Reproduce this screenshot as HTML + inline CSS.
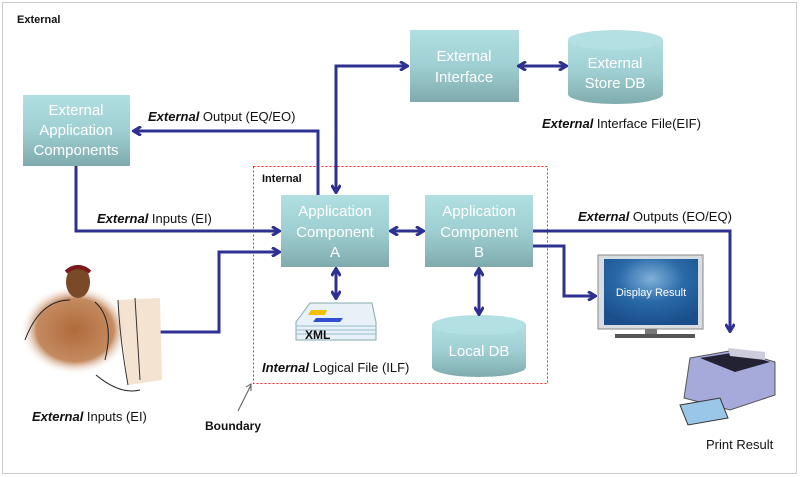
<!DOCTYPE html>
<html><head><meta charset="utf-8"><style>
html,body{margin:0;padding:0;background:#fff;}
svg{display:block;font-family:"Liberation Sans",sans-serif;}
.bt{fill:#fff;font-size:15px;text-anchor:middle;}
.lb{fill:#111;font-size:13px;}
</style></head><body>
<svg width="800" height="477" viewBox="0 0 800 477" xmlns="http://www.w3.org/2000/svg">
<defs>
<linearGradient id="g" x1="0" y1="0" x2="0" y2="1"><stop offset="0" stop-color="#b1dfe2"/><stop offset="0.5" stop-color="#9fcfd2"/><stop offset="1" stop-color="#7fabae"/></linearGradient>
<marker id="ah" markerWidth="10" markerHeight="10" refX="8" refY="5" orient="auto-start-reverse" markerUnits="userSpaceOnUse"><path d="M1,0.5 L8.5,5 L1,9.5" fill="none" stroke="#2e3192" stroke-width="3"/></marker>
<radialGradient id="scr" cx="0.5" cy="0.3" r="0.7"><stop offset="0" stop-color="#7fb0d8"/><stop offset="0.5" stop-color="#2a6aa8"/><stop offset="1" stop-color="#1a4f8c"/></radialGradient>
<radialGradient id="pb" cx="0.5" cy="0.5" r="0.5"><stop offset="0" stop-color="#b06a3a"/><stop offset="0.7" stop-color="#c48a60"/><stop offset="1" stop-color="#fff" stop-opacity="0"/></radialGradient>
</defs>
<rect x="2.5" y="2.5" width="794" height="471" fill="none" stroke="#999" stroke-dasharray="1,1"/>
<text x="17" y="23" font-size="11" font-weight="bold" fill="#111">External</text>
<rect x="253.5" y="166.5" width="294" height="217" fill="none" stroke="#ff2020" stroke-dasharray="2,2"/>
<text x="262" y="182" font-size="11" font-weight="bold" fill="#111">Internal</text>

<rect x="23" y="95" width="107" height="71" fill="url(#g)"/>
<text class="bt"><tspan x="76" y="115">External</tspan><tspan x="76" y="135">Application</tspan><tspan x="76" y="155">Components</tspan></text>
<rect x="410" y="30" width="109" height="72" fill="url(#g)"/>
<text class="bt"><tspan x="464" y="61">External</tspan><tspan x="464" y="82">Interface</tspan></text>
<rect x="281" y="195" width="108" height="72" fill="url(#g)"/>
<text class="bt"><tspan x="335" y="216">Application</tspan><tspan x="335" y="237">Component</tspan><tspan x="335" y="257">A</tspan></text>
<rect x="425" y="195" width="108" height="72" fill="url(#g)"/>
<text class="bt"><tspan x="479" y="216">Application</tspan><tspan x="479" y="237">Component</tspan><tspan x="479" y="257">B</tspan></text>

<path d="M568,40 v54 a47.5,10 0 0 0 95,0 v-54 z" fill="url(#g)"/>
<ellipse cx="615.5" cy="40" rx="47.5" ry="10" fill="#b3e0e3"/>
<text class="bt"><tspan x="615" y="68">External</tspan><tspan x="615" y="88">Store DB</tspan></text>
<path d="M432,325 v42 a47,10 0 0 0 94,0 v-42 z" fill="url(#g)"/>
<ellipse cx="479" cy="325" rx="47" ry="10" fill="#b3e0e3"/>
<text class="bt" x="479" y="356">Local DB</text>

<g fill="none" stroke="#2e3192" stroke-width="3">
<path d="M519,66 H566" marker-start="url(#ah)" marker-end="url(#ah)"/>
<path d="M407,66 H336 V192" marker-start="url(#ah)" marker-end="url(#ah)"/>
<path d="M318,195 V131 H134" marker-end="url(#ah)"/>
<path d="M76,166 V231 H279" marker-end="url(#ah)"/>
<path d="M160,332 H219 V252 H279" marker-end="url(#ah)"/>
<path d="M391,231 H423" marker-start="url(#ah)" marker-end="url(#ah)"/>
<path d="M336,269 V298" marker-start="url(#ah)" marker-end="url(#ah)"/>
<path d="M479,269 V314" marker-start="url(#ah)" marker-end="url(#ah)"/>
<path d="M533,231 H730 V331" marker-end="url(#ah)"/>
<path d="M533,246 H564 V296 H595" marker-end="url(#ah)"/>
</g>
<path d="M238,411 L251,385" stroke="#555" stroke-width="1" fill="none"/>
<path d="M246,387 L251,384 L251,391" stroke="#555" fill="none"/>

<text class="lb" x="148" y="121"><tspan font-weight="bold" font-style="italic">External</tspan> Output (EQ/EO)</text>
<text class="lb" x="97" y="223"><tspan font-weight="bold" font-style="italic">External</tspan> Inputs (EI)</text>
<text class="lb" x="578" y="221"><tspan font-weight="bold" font-style="italic">External</tspan> Outputs (EO/EQ)</text>
<text class="lb" x="542" y="128"><tspan font-weight="bold" font-style="italic">External</tspan> Interface File(EIF)</text>
<text class="lb" x="262" y="372"><tspan font-weight="bold" font-style="italic">Internal</tspan> Logical File (ILF)</text>
<text class="lb" x="32" y="421"><tspan font-weight="bold" font-style="italic">External</tspan> Inputs (EI)</text>
<text x="205" y="430" font-size="12" font-weight="bold" fill="#111">Boundary</text>
<text class="lb" x="706" y="449">Print Result</text>

<path d="M296,322 L310,303 L372,303 L376,322 L376,340 L296,340 Z" fill="#e8f0f8" stroke="#8aa" stroke-width="1"/>
<path d="M296,326 H376 M296,330 H376 M296,334 H376" stroke="#9bc" stroke-width="1"/>
<path d="M311,310 L327,310 L325,315 L308,315 Z" fill="#f5c000"/>
<path d="M316,318 L343,318 L340,322 L313,322 Z" fill="#3050d0"/>
<text x="305" y="339" font-size="12" font-weight="bold" fill="#111">XML</text>

<ellipse cx="75" cy="330" rx="55" ry="45" fill="url(#pb)"/>
<path d="M118,300 L160,298 L162,380 L128,385 Z" fill="#f3dcc6" opacity="0.8"/>
<path d="M118,300 Q120,340 128,385 M135,298 L140,380" stroke="#333" fill="none"/>
<ellipse cx="78" cy="282" rx="12" ry="16" fill="#7a4a28"/>
<path d="M66,272 Q78,262 90,272" stroke="#7a1a1a" stroke-width="4" fill="none"/>
<path d="M25,340 Q40,300 70,300 M95,302 Q115,320 105,360 M96,375 Q120,395 140,390" stroke="#222" fill="none"/>

<rect x="598" y="255" width="105" height="74" fill="#d8dde2" stroke="#888"/>
<rect x="604" y="259" width="94" height="66" fill="url(#scr)"/>
<text x="651" y="296" font-size="11" fill="#fff" text-anchor="middle">Display Result</text>
<rect x="645" y="329" width="12" height="5" fill="#777"/>
<rect x="615" y="334" width="80" height="4" fill="#555"/>

<path d="M690,358 L735,350 L775,362 L775,395 L730,410 L684,398 Z" fill="#a6aadb" stroke="#555"/>
<path d="M700,358 L738,352 L770,362 L735,372 Z" fill="#223"/>
<path d="M728,348 L765,352 L765,360 L730,356 Z" fill="#ccd"/>
<path d="M680,405 L720,398 L728,418 L688,425 Z" fill="#9ac6e8" stroke="#333"/>
</svg>
</body></html>
